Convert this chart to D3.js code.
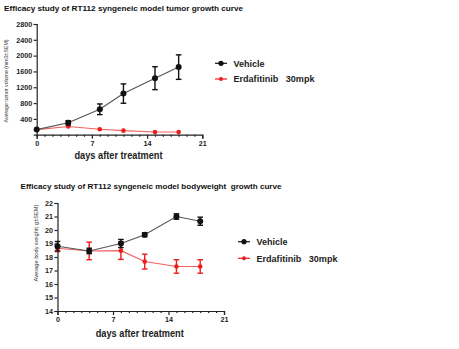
<!DOCTYPE html>
<html><head><meta charset="utf-8">
<script src="https://cdn.jsdelivr.net/npm/d3@7"></script>
<style>
body{margin:0;background:#fff;}
svg{display:block;font-family:"Liberation Sans",Arial,sans-serif;}
text{white-space:pre;}
</style></head><body>
<svg id="c" width="459" height="349"></svg>
<script>
const days = [0, 4, 8, 11, 15, 18];
const seriesNames = ["Vehicle", "Erdafitinib   30mpk"];
const tumorVehicle = [129, 300, 643, 1040, 1430, 1710];
const tumorVehicleSEM = [20, 55, 135, 245, 290, 310];
const tumorErda = [129, 206, 137, 103, 70, 68];
const tumorErdaSEM = [12, 20, 15, 12, 8, 8];
const bwVehicle = [18.8, 18.45, 19.0, 19.65, 21.0, 20.65];
const bwVehicleSEM = [0.35, 0.2, 0.3, 0.15, 0.2, 0.3];
const bwErda = [18.65, 18.45, 18.47, 17.66, 17.3, 17.3];
const bwErdaSEM = [0.25, 0.65, 0.65, 0.55, 0.5, 0.5];
const xTicks = [0, 7, 14, 21];
const tumorTicks = [400, 800, 1200, 1600, 2000, 2400, 2800];
const bwTicks = [14, 15, 16, 17, 18, 19, 20, 21, 22];

const svg = d3.select("#c");
const BLACK = "#111", RED = "#ee1c1c";

function drawPanel(o) {
  const g = svg.append("g");
  const x = d3.scaleLinear().domain([0, 21]).range(o.xr);
  const y = d3.scaleLinear().domain(o.yd).range(o.yr);
  // title
  g.append("text").attr("x", o.title[1]).attr("y", o.title[2])
    .attr("font-size", 7.4).attr("font-weight", "bold").attr("fill", "#111")
    .attr("textLength", o.title[3]).attr("lengthAdjust", "spacingAndGlyphs")
    .text(o.title[0]);
  // x axis
  g.append("g").attr("transform", `translate(0,${o.yr[0]})`)
    .call(d3.axisBottom(x).tickValues(xTicks).tickSize(4).tickPadding(2).tickFormat(d3.format("d")));
  g.append("g").attr("transform", `translate(0,${o.yr[0]})`)
    .call(d3.axisBottom(x).tickValues(d3.range(0, 22).filter(d => d % 7)).tickSize(2).tickFormat(""))
    .call(s => s.select(".domain").remove());
  // y axis
  g.append("g").attr("transform", `translate(${o.xr[0]},0)`)
    .call(d3.axisLeft(y).tickValues(o.yticks).tickSize(3).tickPadding(1.5).tickFormat(d3.format("d")));
  g.selectAll(".tick text").attr("font-size", 7.2).attr("font-weight", "bold").attr("fill", "#222")
    .attr("font-family", "Liberation Sans, Arial, sans-serif");
  g.selectAll(".domain, .tick line").attr("stroke", "#222").attr("stroke-width", 1.2);
  // axis titles
  g.append("text").attr("x", (o.xr[0] + o.xr[1]) / 2 - 1).attr("y", o.xtY)
    .attr("text-anchor", "middle").attr("font-size", 10).attr("fill", "#222")
    .attr("font-weight", "bold").attr("textLength", 88).attr("lengthAdjust", "spacingAndGlyphs")
    .text("days after treatment");
  g.append("text").attr("transform", `translate(${o.ytX},${o.ytY}) rotate(-90)`)
    .attr("text-anchor", "middle").attr("font-size", 6).attr("fill", "#333")
    .attr("textLength", o.ytLen).attr("lengthAdjust", "spacingAndGlyphs")
    .text(o.ytitle);
  // series
  const series = [
    {v: o.vehicle, e: o.vehicleSEM, c: BLACK, lc: "#555", r: 3},
    {v: o.erda, e: o.erdaSEM, c: RED, lc: "#f26060", r: 2.3}
  ];
  const line = d3.line().x((d, i) => x(days[i])).y(d => y(d));
  series.slice().reverse().forEach(s => {
    g.append("path").datum(s.v).attr("d", line).attr("fill", "none")
      .attr("stroke", s.lc).attr("stroke-width", 1.1);
  });
  series.slice().reverse().forEach(s => {
    const eb = g.append("g").attr("stroke", s.c).attr("stroke-width", 1.4);
    s.v.forEach((v, i) => {
      const cx = x(days[i]), y1 = y(v + s.e[i]), y2 = y(v - s.e[i]);
      if (Math.abs(y2 - y1) > 3) {
        eb.append("line").attr("x1", cx).attr("x2", cx).attr("y1", y1).attr("y2", y2);
        [y1, y2].forEach(yy => eb.append("line").attr("x1", cx - 2.8).attr("x2", cx + 2.8).attr("y1", yy).attr("y2", yy));
      }
    });
    g.append("g").selectAll("circle").data(s.v).join("circle")
      .attr("cx", (d, i) => x(days[i])).attr("cy", d => y(d)).attr("r", s.r).attr("fill", s.c);
  });
  // legend
  series.forEach((s, i) => {
    const ly = o.leg[1] + i * o.leg[2];
    g.append("line").attr("x1", o.leg[0] - 6).attr("x2", o.leg[0] + 6).attr("y1", ly).attr("y2", ly)
      .attr("stroke", s.c).attr("stroke-width", 1.2);
    g.append("circle").attr("cx", o.leg[0]).attr("cy", ly).attr("r", i ? 2 : 2.6).attr("fill", s.c);
    g.append("text").attr("x", o.leg[0] + 12.5).attr("y", ly + 3.2).attr("font-size", 9)
      .attr("fill", "#222").attr("font-weight", "bold")
      .attr("textLength", i ? 81 : 31).attr("lengthAdjust", "spacingAndGlyphs")
      .text(seriesNames[i]);
  });
}

drawPanel({
  xr: [36.7, 202.3], yd: [0, 2800], yr: [134.7, 24], yticks: tumorTicks,
  title: ["Efficacy study of RT112 syngeneic model tumor growth curve", 4, 11, 239],
  xtY: 158.5, ytX: 8, ytY: 81, ytLen: 83, ytitle: "Average tumor volume (mm3±SEM)",
  vehicle: tumorVehicle, vehicleSEM: tumorVehicleSEM, erda: tumorErda, erdaSEM: tumorErdaSEM,
  leg: [221, 63.3, 15.7]
});
drawPanel({
  xr: [57.5, 224], yd: [14, 22], yr: [311, 203], yticks: bwTicks,
  title: ["Efficacy study of RT112 syngeneic model bodyweight  growth curve", 20.5, 189, 261],
  xtY: 336.5, ytX: 38, ytY: 243, ytLen: 77, ytitle: "Average body weight( g±SEM)",
  vehicle: bwVehicle, vehicleSEM: bwVehicleSEM, erda: bwErda, erdaSEM: bwErdaSEM,
  leg: [244, 241.7, 16.6]
});
</script>
</body></html>
